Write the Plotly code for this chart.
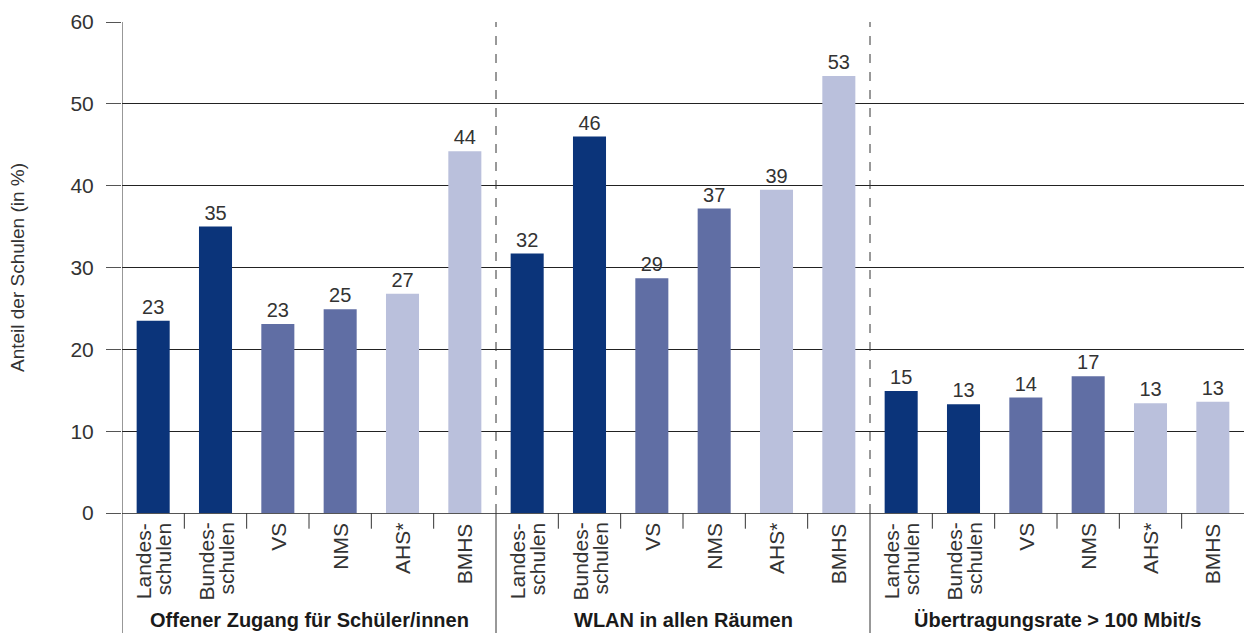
import plotly.graph_objects as go

# Anteil der Schulen nach Schultyp, drei Merkmale
groups = ["Offener Zugang für Schüler/innen", "WLAN in allen Räumen", "Übertragungsrate > 100 Mbit/s"]
school_types = [["Landes-", "schulen"], ["Bundes-", "schulen"], ["VS"], ["NMS"], ["AHS*"], ["BMHS"]]

values_zugang = [23.5, 35.0, 23.1, 24.9, 26.8, 44.2]
values_wlan = [31.7, 46.0, 28.7, 37.2, 39.5, 53.4]
values_rate = [14.9, 13.3, 14.1, 16.7, 13.4, 13.6]

labels_zugang = [23, 35, 23, 25, 27, 44]
labels_wlan = [32, 46, 29, 37, 39, 53]
labels_rate = [15, 13, 14, 17, 13, 13]

type_colors = ["#0b347a", "#0b347a", "#606ea4", "#606ea4", "#bac0dc", "#bac0dc"]

values = values_zugang + values_wlan + values_rate
labels = labels_zugang + labels_wlan + labels_rate
xpos = list(range(len(values)))
font = "Liberation Sans, Arial, sans-serif"

fig = go.Figure(go.Bar(
    x=xpos, y=values,
    marker=dict(color=type_colors * 3, line=dict(width=0)),
    text=[str(v) for v in labels], textposition="outside",
    textfont=dict(size=20, color="#333333", family=font),
    cliponaxis=False, width=0.53,
))

n = len(school_types)
bottom = -120 / 491
shapes = []
# category boundary ticks below the axis
for i in range(len(values) + 1):
    if i % n == 0:
        continue
    shapes.append(dict(type="line", xref="x", yref="paper", x0=i - 0.5, x1=i - 0.5,
                       y0=0, y1=-0.032, line=dict(color="#333333", width=1)))
# group separators
for g in range(1, len(groups)):
    xs = g * n - 0.5
    shapes.append(dict(type="line", xref="x", yref="paper", x0=xs, x1=xs, y0=0, y1=1,
                       line=dict(color="#333333", width=1, dash="dash")))
    shapes.append(dict(type="line", xref="x", yref="paper", x0=xs, x1=xs, y0=0, y1=bottom,
                       line=dict(color="#333333", width=1)))
# left axis line running down through the label area
shapes.append(dict(type="line", xref="x", yref="paper", x0=-0.5, x1=-0.5, y0=1, y1=bottom,
                   line=dict(color="#333333", width=1)))

annotations = []
# rotated category labels, one annotation per line so the line spacing stays tight
for i in xpos:
    lines = school_types[i % n]
    for k, line in enumerate(lines):
        shift = (k - (len(lines) - 1) / 2) * 20
        annotations.append(dict(x=i, xref="x", y=0, yref="paper", yanchor="top",
                                xanchor="center", yshift=-8, xshift=shift, text=line,
                                textangle=-90, showarrow=False,
                                font=dict(size=21, color="#333333", family=font)))
for g, name in enumerate(groups):
    annotations.append(dict(x=g * n + (n - 1) / 2, xref="x", y=-107 / 491, yref="paper",
                            yanchor="middle", text="<b>" + name + "</b>", showarrow=False,
                            font=dict(size=20, color="#1a1a1a", family=font)))

fig.update_layout(
    width=1244, height=633,
    margin=dict(l=122, r=0, t=22, b=120),
    plot_bgcolor="white", paper_bgcolor="white",
    showlegend=False,
    font=dict(family=font, color="#333333"),
    shapes=shapes, annotations=annotations,
    xaxis=dict(range=[-0.5, len(values) - 0.5], tickvals=xpos, showticklabels=False,
               showgrid=False, showline=True, linecolor="#555555", ticks="",
               zeroline=False),
    yaxis=dict(range=[0, 60], tickvals=[0, 10, 20, 30, 40, 50, 60], showgrid=True,
               gridcolor="#222222", gridwidth=1, ticks="outside", ticklen=15,
               tickcolor="#555555", tickfont=dict(size=21, color="#333333"),
               ticklabelstandoff=8, zeroline=False, showline=False,
               title=dict(text="Anteil der Schulen (in %)", font=dict(size=19, color="#333333"),
                          standoff=40)),
)

fig.write_html("out.html", config={"displayModeBar": False},
               post_script="document.body.style.margin='0';")
